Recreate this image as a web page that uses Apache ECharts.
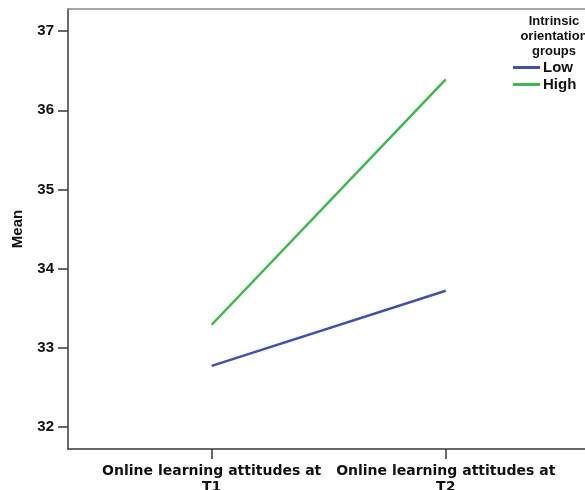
<!DOCTYPE html>
<html>
<head>
<meta charset="utf-8">
<script src="https://cdn.jsdelivr.net/npm/echarts@6/dist/echarts.min.js"></script>
<style>
html,body{margin:0;padding:0;background:#fff;}
#chart{width:585px;height:490px;}
</style>
</head>
<body>
<div id="chart"></div>
<script>
// Data
var categories = ['Online learning attitudes at\nT1', 'Online learning attitudes at\nT2'];
var categoryPositions = [1, 2];
var seriesNames = ['Low', 'High'];
var lowValues = [32.77, 33.72];
var highValues = [33.29, 36.39];
var yTicks = [32, 33, 34, 35, 36, 37];
var legendTitle = 'Intrinsic\norientation\ngroups';
var yTitle = 'Mean';

var chart = echarts.init(document.getElementById('chart'), null, {renderer: 'canvas'});
function pairs(vals) { return vals.map(function (v, i) { return [categoryPositions[i], v]; }); }
var axisColor = '#383838';
var textColor = '#111';
var option = {
  backgroundColor: '#ffffff',
  animation: false,
  grid: {left: 68, right: 0, top: 9, bottom: 41, containLabel: false, outerBoundsMode: 'none'},
  title: {
    text: legendTitle,
    left: 549, top: 9,
    textAlign: 'center',
    textStyle: {fontFamily: 'Liberation Sans', fontWeight: 'bold', fontSize: 13, lineHeight: 15, color: textColor}
  },
  legend: {
    data: seriesNames,
    orient: 'vertical',
    left: 508, top: 55,
    itemWidth: 27, itemHeight: 3,
    itemGap: 2,
    icon: 'rect',
    textStyle: {fontFamily: 'Liberation Sans', fontWeight: 'bold', fontSize: 15, lineHeight: 15, color: textColor, padding: [0, 0, 0, -2]}
  },
  xAxis: [{
    type: 'value',
    min: 0.386, max: 2.595,
    axisLine: {show: true, lineStyle: {color: axisColor, width: 1.5}},
    axisTick: {show: true, length: 10, customValues: categoryPositions, lineStyle: {color: axisColor, width: 1.5}},
    axisLabel: {
      customValues: categoryPositions,
      formatter: function (v) { var i = categoryPositions.indexOf(v); return i >= 0 ? categories[i] : ''; },
      fontFamily: 'DejaVu Sans', fontWeight: 'bold', fontSize: 14, lineHeight: 16, color: textColor, margin: 14
    },
    splitLine: {show: false}
  }, {
    type: 'value', position: 'top',
    min: 0.386, max: 2.595,
    axisLine: {show: true, lineStyle: {color: '#8a8a8a', width: 1.5}},
    axisTick: {show: false}, axisLabel: {show: false}, splitLine: {show: false}
  }],
  yAxis: {
    type: 'value',
    min: 31.72, max: 37.28,
    name: yTitle,
    nameLocation: 'middle',
    nameRotate: 90,
    nameGap: 43,
    nameTextStyle: {fontFamily: 'Liberation Sans', fontWeight: 'bold', fontSize: 15, color: textColor},
    axisLine: {show: true, lineStyle: {color: axisColor, width: 1.5}},
    axisTick: {show: true, length: 10, customValues: yTicks, lineStyle: {color: axisColor, width: 1.5}},
    axisLabel: {customValues: yTicks, fontFamily: 'Liberation Sans', fontWeight: 'bold', fontSize: 15, color: textColor, margin: 14},
    splitLine: {show: false}
  },
  series: [{
    name: seriesNames[0], type: 'line', data: pairs(lowValues),
    showSymbol: false, symbol: 'none',
    color: '#3f51a9',
    lineStyle: {color: '#3f51a9', width: 2.5}
  }, {
    name: seriesNames[1], type: 'line', data: pairs(highValues),
    showSymbol: false, symbol: 'none',
    color: '#3db84b',
    lineStyle: {color: '#3db84b', width: 2.5}
  }]
};
chart.setOption(option);
</script>
</body>
</html>
